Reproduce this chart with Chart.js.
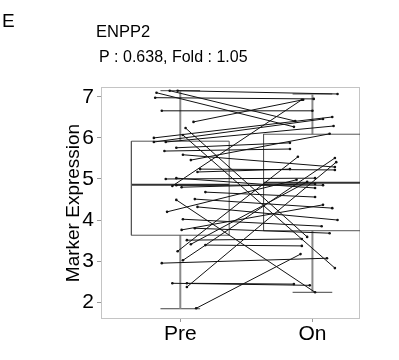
<!DOCTYPE html>
<html>
<head>
<meta charset="utf-8">
<script src="https://cdn.jsdelivr.net/npm/chart.js@4"></script>
<style>
  html, body { margin: 0; padding: 0; background: #fff; }
  #wrap { width: 399px; height: 360px; }
</style>
</head>
<body>
<div id="wrap"><canvas id="c" width="399" height="360"></canvas></div>
<script>
// groups on the x axis
const groups = ["Pre", "On"];
const groupPos = [1, 2];

// box stats (min, q1, median, q3, max)
const boxMin = [1.84, 2.24];
const boxQ1 = [3.63, 3.74];
const boxMed = [4.86, 4.91];
const boxQ3 = [5.92, 6.09];
const boxMax = [7.15, 7.07];

// paired samples, jittered x positions
const preX = [0.81, 0.82, 0.92, 0.86, 1.10, 0.80, 0.80, 0.89, 1.04, 1.02,
              0.97, 0.88, 1.02, 1.15, 1.13, 0.89, 0.97, 0.94, 1.19, 0.90,
              1.11, 1.13, 1.02, 1.11, 1.05, 1.08, 1.19, 0.98, 1.02, 0.86,
              0.94, 1.05, 1.05, 1.12, 0.98, 1.01, 0.97, 0.97, 1.01, 1.08];
const preY = [6.98, 7.10, 7.15, 6.66, 6.39, 6.00, 5.90, 5.90, 6.24, 6.07,
              5.76, 5.68, 5.59, 5.24, 5.17, 5.00, 5.02, 4.83, 4.68, 4.20,
              4.51, 4.32, 4.02, 3.80, 3.51, 3.41, 3.39, 3.24, 3.02, 2.95,
              2.46, 2.37, 2.46, 1.85, 7.15, 4.80, 4.85, 4.49, 3.76, 5.46];
const onX = [2.01, 1.86, 1.87, 2.00, 1.93, 2.15, 2.08, 2.16, 1.96, 2.17,
             1.83, 1.83, 2.17, 2.17, 1.83, 2.02, 2.02, 1.92, 2.02, 1.88,
             2.15, 2.19, 2.07, 2.13, 1.92, 1.96, 1.92, 1.89, 2.17, 2.11,
             1.98, 2.18, 1.86, 1.91, 2.19, 2.02, 2.08, 2.02, 2.08, 2.13];
const onY = [6.95, 6.27, 6.41, 6.66, 6.93, 6.51, 6.46, 6.29, 3.59, 2.83,
             5.88, 5.73, 5.29, 5.22, 5.24, 5.02, 4.78, 6.93, 4.56, 4.98,
             4.29, 4.00, 3.85, 3.68, 3.54, 4.93, 3.37, 5.54, 5.51, 3.07,
             2.41, 5.41, 2.44, 3.17, 7.07, 4.88, 4.85, 2.24, 4.37, 6.10];

const yTicks = [2, 3, 4, 5, 6, 7];

const BOX_W = 0.37;
const CAP_W = 0.15;

function seg(x1, y1, x2, y2, color, width) {
  return {
    data: [{x: x1, y: y1}, {x: x2, y: y2}],
    showLine: true, borderColor: color, borderWidth: width,
    pointRadius: 0, fill: false
  };
}

var datasets = [];

// paired lines (drawn on top, so listed first)
for (var i = 0; i < preX.length; i++) {
  datasets.push({
    data: [{x: preX[i], y: preY[i]}, {x: onX[i], y: onY[i]}],
    showLine: true, borderColor: "#111", borderWidth: 1,
    pointRadius: 1.3, pointBackgroundColor: "#111", pointBorderWidth: 0
  });
}

// boxplots
for (var g = 0; g < groups.length; g++) {
  var c = groupPos[g];
  datasets.push({
    data: [{x: c - BOX_W, y: boxQ1[g]}, {x: c + BOX_W, y: boxQ1[g]},
           {x: c + BOX_W, y: boxQ3[g]}, {x: c - BOX_W, y: boxQ3[g]},
           {x: c - BOX_W, y: boxQ1[g]}],
    showLine: true, borderColor: "#555", borderWidth: 1, pointRadius: 0
  });
  datasets.push(seg(c - BOX_W, boxMed[g], c + BOX_W, boxMed[g], "#333", 2));
  datasets.push(seg(c, boxQ3[g], c, boxMax[g], "#8a8a8a", 2));
  datasets.push(seg(c, boxQ1[g], c, boxMin[g], "#8a8a8a", 2));
  datasets.push(seg(c - CAP_W, boxMax[g], c + CAP_W, boxMax[g], "#444", 1));
  datasets.push(seg(c - CAP_W, boxMin[g], c + CAP_W, boxMin[g], "#444", 1));
}

const frame = {
  id: "frame",
  beforeDatasetsDraw(chart) {
    const a = chart.chartArea, ctx = chart.ctx;
    ctx.save();
    ctx.strokeStyle = "#c4c4c4";
    ctx.lineWidth = 1;
    ctx.strokeRect(a.left + 0.5, a.top + 0.5, a.right - a.left - 1, a.bottom - a.top - 1);
    ctx.restore();
  },
  afterDraw(chart) {
    const ctx = chart.ctx;
    ctx.save();
    ctx.fillStyle = "#000";
    ctx.textBaseline = "alphabetic";
    ctx.font = "19px 'Liberation Sans', Arial, sans-serif";
    ctx.fillText("E", 2, 27);
    ctx.font = "16.5px 'Liberation Sans', Arial, sans-serif";
    ctx.fillText("ENPP2", 96, 37);
    ctx.font = "16px 'Liberation Sans', Arial, sans-serif";
    ctx.fillText("P : 0.638, Fold : 1.05", 99, 62);
    ctx.restore();
  }
};

new Chart(document.getElementById("c"), {
  type: "scatter",
  data: { datasets: datasets },
  options: {
    responsive: false,
    animation: false,
    layout: { padding: { top: 87, right: 39, bottom: 0, left: 0 } },
    plugins: { legend: { display: false }, tooltip: { enabled: false } },
    scales: {
      x: {
        type: "linear", min: 0.4, max: 2.36,
        afterFit: function(s) { s.height = 41; },
        afterBuildTicks: function(s) { s.ticks = groupPos.map(function(v) { return {value: v}; }); },
        grid: { drawOnChartArea: false, drawTicks: true, tickLength: 3, color: "#999" },
        border: { display: false },
        ticks: {
          padding: 0,
          color: "#000",
          font: { family: "'Liberation Sans', Arial, sans-serif", size: 21 },
          callback: function(v) { var k = groupPos.indexOf(v); return k >= 0 ? groups[k] : ""; }
        }
      },
      y: {
        min: 1.59, max: 7.24,
        afterFit: function(s) { s.width = 101; },
        afterBuildTicks: function(s) { s.ticks = yTicks.map(function(v) { return {value: v}; }); },
        grid: { drawOnChartArea: false, drawTicks: true, tickLength: 4, color: "#999" },
        border: { display: false },
        title: {
          display: true, text: "Marker Expression", color: "#000",
          font: { family: "'Liberation Sans', Arial, sans-serif", size: 19 },
          padding: { top: 62, bottom: 0 }
        },
        ticks: {
          padding: 3,
          color: "#000",
          font: { family: "'Liberation Sans', Arial, sans-serif", size: 21 }
        }
      }
    }
  },
  plugins: [frame]
});
</script>
</body>
</html>
